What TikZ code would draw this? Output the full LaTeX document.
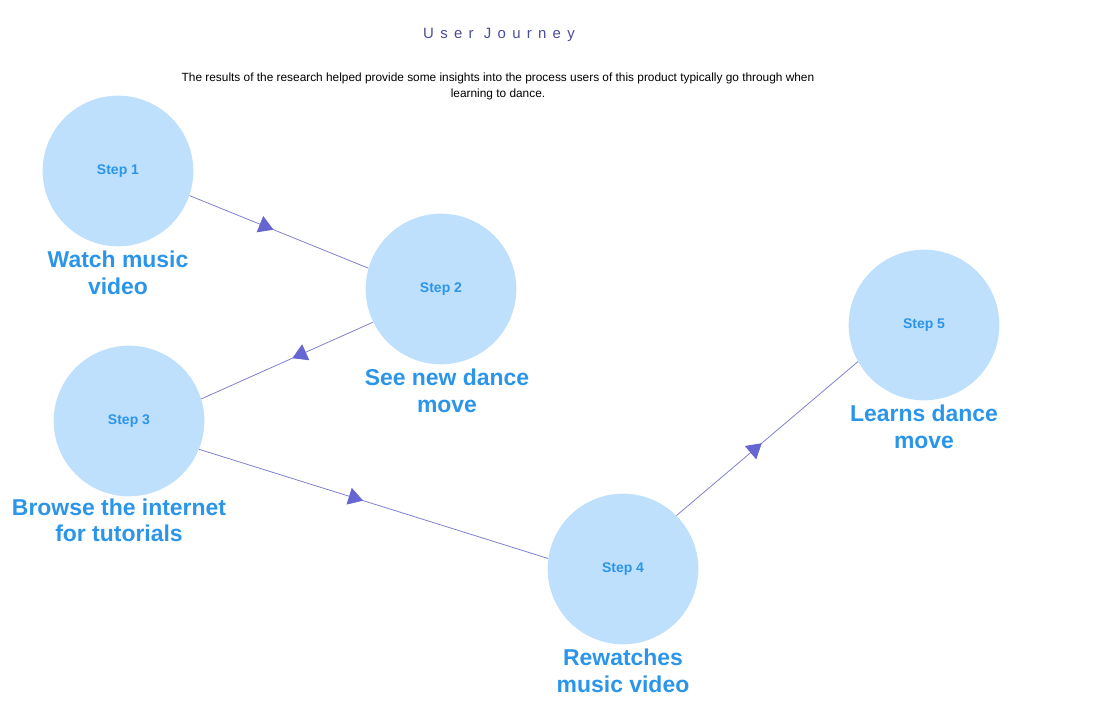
\documentclass[tikz,border=0pt]{standalone}
\usepackage{fontspec}
\setmainfont{Liberation Sans}
\newfontfamily\titlefont[LetterSpace=42]{Liberation Sans}
\usetikzlibrary{arrows.meta, positioning, decorations.markings}

\definecolor{stepfill}{HTML}{BFE0FC}
\definecolor{steptext}{HTML}{2B95EA}
\definecolor{linkline}{HTML}{8080D0}
\definecolor{linkhead}{HTML}{6666D2}
\definecolor{titleblue}{HTML}{4B4B9B}

\begin{document}
\begin{tikzpicture}[
    x=0.75pt,
    y=-0.75pt,
    stepnode/.style={
        circle,
        fill=stepfill,
        minimum size=113pt,
        inner sep=0pt,
        text=steptext,
        font=\bfseries\fontsize{10.5}{12}\selectfont
    },
    steptitle/.style={
        text=steptext,
        align=center,
        font=\bfseries\fontsize{17.2}{20}\selectfont
    },
    link/.style={
        draw=linkline,
        line width=0.6pt,
        postaction={decorate},
        decoration={markings,
            mark=at position 0.47 with {\arrow{Triangle[width=13pt, length=11pt, color=linkhead]}}}
    }
]

\useasboundingbox (0,0) rectangle (1120,712);

\node[font=\titlefont\fontsize{11.2}{13}\selectfont, text=titleblue] (title) at (499,35) {User Journey};
\node[font=\fontsize{8.9}{12}\selectfont, align=center] (intro) at (498,86) {The results of the research helped provide some insights into the process users of this product typically go through when\\learning to dance.};

\node[stepnode] (s1) at (118,171) {Step 1};
\node[stepnode] (s2) at (441,289) {Step 2};
\node[stepnode] (s3) at (129,421) {Step 3};
\node[stepnode] (s4) at (623,569) {Step 4};
\node[stepnode] (s5) at (924,325) {Step 5};

\node[steptitle, below=0pt of s1] (t1) {Watch music\\video};
\node[steptitle, below=0pt of s2, xshift=4.5pt] (t2) {See new dance\\move};
\node[steptitle, below=0pt of s3, xshift=-7.5pt, yshift=2pt] (t3) {Browse the internet\\for tutorials};
\node[steptitle, below=0pt of s4] (t4) {Rewatches\\music video};
\node[steptitle, below=0pt of s5] (t5) {Learns dance\\move};

\draw[link] (s1.-19) -- (s2.164);
\draw[link] (s2.206) -- (s3.17);
\draw[link] (s3.-22) -- (s4.172);
\draw[link] (s4.45) -- (s5.209);

\end{tikzpicture}
\end{document}
